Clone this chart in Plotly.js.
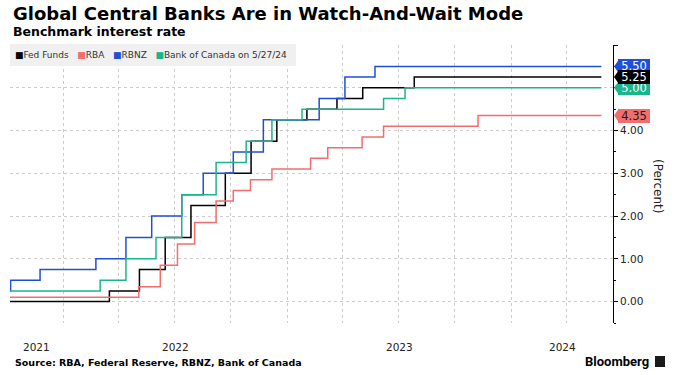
<!DOCTYPE html>
<html><head><meta charset="utf-8">
<script src="https://cdn.plot.ly/plotly-3.0.1.min.js"></script>
<style>html,body{margin:0;padding:0;background:#fff}#chart{width:675px;height:375px}</style>
</head><body><div id="chart"></div>
<script>
// ---- data ----
const fedDates  = ['2021-10-06','2022-03-17','2022-05-05','2022-06-16','2022-07-28','2022-09-22','2022-11-03','2022-12-15','2023-02-02','2023-03-23','2023-05-04','2023-07-27','2024-05-27'];
const fedValues = [0, 0.25, 0.75, 1.5, 2.25, 3.0, 3.75, 4.25, 4.5, 4.75, 5.0, 5.25, 5.25];

const rbaDates  = ['2021-10-06','2022-05-04','2022-06-08','2022-07-06','2022-08-03','2022-09-07','2022-10-05','2022-11-02','2022-12-07','2023-02-08','2023-03-08','2023-05-03','2023-06-07','2023-11-08','2024-05-27'];
const rbaValues = [0.1, 0.35, 0.85, 1.35, 1.85, 2.35, 2.6, 2.85, 3.1, 3.35, 3.6, 3.85, 4.1, 4.35, 4.35];

const rbnzDates  = ['2021-10-06','2021-10-07','2021-11-24','2022-02-23','2022-04-13','2022-05-25','2022-07-13','2022-08-17','2022-10-05','2022-11-23','2023-02-22','2023-04-05','2023-05-24','2024-05-27'];
const rbnzValues = [0.25, 0.5, 0.75, 1.0, 1.5, 2.0, 2.5, 3.0, 3.5, 4.25, 4.75, 5.25, 5.5, 5.5];

const bocDates  = ['2021-10-06','2022-03-02','2022-04-13','2022-06-01','2022-07-13','2022-09-07','2022-10-26','2022-12-07','2023-01-25','2023-06-07','2023-07-12','2024-05-27'];
const bocValues = [0.25, 0.5, 1.0, 1.5, 2.5, 3.25, 3.75, 4.25, 4.5, 4.75, 5.0, 5.0];

const seriesNames = ['Fed Funds', 'RBA', 'RBNZ', 'Bank of Canada on 5/27/24'];
const yTickVals = [0, 1, 2, 3, 4, 5, 6];
const yTickText = ['0.00', '1.00', '2.00', '3.00', '4.00', '', ''];
const yearLabels = ['2021', '2022', '2023', '2024'];
const xRange = ['2021-10-06', '2024-06-15'];
const yRange = [-0.5, 6];

// ---- styling ----
const colors = {fed: '#000000', rba: '#f26d6d', rbnz: '#1f4fd6', boc: '#1bb58c'};
const FONT = 'DejaVu Sans, Verdana, sans-serif';

const series = [
  {key: 'fed',  name: seriesNames[0], x: fedDates,  y: fedValues,  labelText: '#ffffff'},
  {key: 'rba',  name: seriesNames[1], x: rbaDates,  y: rbaValues,  labelText: '#1a1a1a'},
  {key: 'rbnz', name: seriesNames[2], x: rbnzDates, y: rbnzValues, labelText: '#ffffff'},
  {key: 'boc',  name: seriesNames[3], x: bocDates,  y: bocValues,  labelText: '#ffffff'}
];

const traces = series.map(s => ({
  type: 'scatter', mode: 'lines', name: s.name, x: s.x, y: s.y,
  line: {shape: 'hv', color: colors[s.key], width: 1.5},
  showlegend: false, hoverinfo: 'skip'
}));

const annotations = [];
const shapes = [];

// Title / subtitle
annotations.push({xref: 'paper', yref: 'paper', x: 0, y: 1, xanchor: 'left', yanchor: 'middle',
  xshift: 1, yshift: 32, showarrow: false, text: '<b>Global Central Banks Are in Watch-And-Wait Mode</b>',
  font: {family: FONT, size: 18, color: '#000'}});
annotations.push({xref: 'paper', yref: 'paper', x: 0, y: 1, xanchor: 'left', yanchor: 'middle',
  xshift: 1, yshift: 14, showarrow: false, text: '<b>Benchmark interest rate</b>',
  font: {family: FONT, size: 12.5, color: '#000'}});

// Legend (built as text)
const nb = '\u00a0';
const legendText = series.map(s => '<span style="color:' + colors[s.key] + '">■</span>' + s.name).join(nb + nb + nb);
annotations.push({xref: 'paper', yref: 'paper', x: 0, y: 1, xanchor: 'left', yanchor: 'middle',
  yshift: -10, showarrow: false, text: nb + legendText, align: 'left', width: 282, height: 18,
  bgcolor: '#f0f0f0', borderpad: 2, borderwidth: 0,
  font: {family: FONT, size: 9, color: '#333'}});

// Year labels centred on visible part of each year
function toMs(d) { return new Date(d + 'T00:00:00Z').getTime(); }
function fmt(ms) {
  const d = new Date(ms);
  const p = n => String(n).padStart(2, '0');
  return d.getUTCFullYear() + '-' + p(d.getUTCMonth() + 1) + '-' + p(d.getUTCDate()) + ' ' + p(d.getUTCHours()) + ':' + p(d.getUTCMinutes());
}
const r0 = toMs(xRange[0]), r1 = toMs(xRange[1]);
yearLabels.forEach(yl => {
  const ys = Math.max(toMs(yl + '-01-01'), r0);
  const ye = Math.min(toMs((+yl + 1) + '-01-01'), r1);
  annotations.push({xref: 'x', yref: 'paper', x: fmt((ys + ye) / 2), y: 0, yshift: -24,
    xanchor: 'center', yanchor: 'middle', showarrow: false, text: yl,
    font: {family: FONT, size: 10.5, color: '#222'}});
});

// Y axis title
annotations.push({xref: 'paper', yref: 'paper', x: 1, y: 0.493, xshift: 45, xanchor: 'center', yanchor: 'middle',
  textangle: 90, showarrow: false, text: '(Percent)', font: {family: FONT, size: 12, color: '#222'}});

// Source and logo
annotations.push({xref: 'paper', yref: 'paper', x: 0, y: 0, xshift: 3, yshift: -39, xanchor: 'left', yanchor: 'middle',
  showarrow: false, text: '<b>Source: RBA, Federal Reserve, RBNZ, Bank of Canada</b>',
  font: {family: FONT, size: 9.5, color: '#000'}});
annotations.push({xref: 'paper', yref: 'paper', x: 1, y: 0, xshift: 38, yshift: -38, xanchor: 'right', yanchor: 'middle',
  showarrow: false, text: '<b>Bloomberg</b>', font: {family: 'Roboto, sans-serif', size: 13, color: '#000'}});
annotations.push({xref: 'paper', yref: 'paper', x: 1, y: 0, xshift: 47, yshift: -38, xanchor: 'center', yanchor: 'middle',
  showarrow: false, text: nb, width: 8, height: 9, borderpad: 1, borderwidth: 0, bgcolor: '#1a1a1a',
  font: {family: FONT, size: 6, color: '#fff'}});

// Last-value labels (drawn so that black ends on top)
['rbnz', 'boc', 'rba', 'fed'].forEach(k => {
  const s = series.find(q => q.key === k);
  const last = s.y[s.y.length - 1];
  shapes.push({type: 'path', xref: 'paper', yref: 'y', xsizemode: 'pixel', ysizemode: 'pixel',
    xanchor: 1, yanchor: last, path: 'M1,0 L6,7 L6,-7 Z', fillcolor: colors[k], line: {width: 0}, layer: 'above'});
  annotations.push({xref: 'paper', yref: 'y', x: 1, y: last, xshift: 5, xanchor: 'left', yanchor: 'middle',
    showarrow: false, text: last.toFixed(2), bgcolor: colors[k], width: 30, height: 12, borderpad: 1, borderwidth: 0,
    font: {family: FONT, size: 11.5, color: s.labelText}});
});

const layout = {
  width: 675, height: 375,
  margin: {l: 10, r: 62, t: 45, b: 52},
  paper_bgcolor: '#fff', plot_bgcolor: '#fff',
  showlegend: false,
  xaxis: {type: 'date', range: xRange, tick0: '2022-01-01', dtick: 'M3', showticklabels: false, ticks: '',
    showgrid: true, gridcolor: '#cccccc', griddash: 'dot', gridwidth: 1, zeroline: false, showline: false, fixedrange: true},
  yaxis: {side: 'right', range: yRange, tickmode: 'array', tickvals: yTickVals, ticktext: yTickText,
    showline: true, linecolor: '#000', linewidth: 1, ticks: 'outside', ticklen: 4, tickcolor: '#000', tickwidth: 1,
    tickfont: {family: FONT, size: 10.5, color: '#222'}, showgrid: true, gridcolor: '#cccccc', griddash: 'dot',
    zeroline: false, fixedrange: true,
    minor: {tick0: 0, dtick: 0.5, ticks: 'outside', ticklen: 2, tickcolor: '#000', showgrid: false}},
  annotations: annotations,
  shapes: shapes
};

Plotly.newPlot('chart', traces, layout, {displayModeBar: false, staticPlot: true});
</script>
</body></html>
